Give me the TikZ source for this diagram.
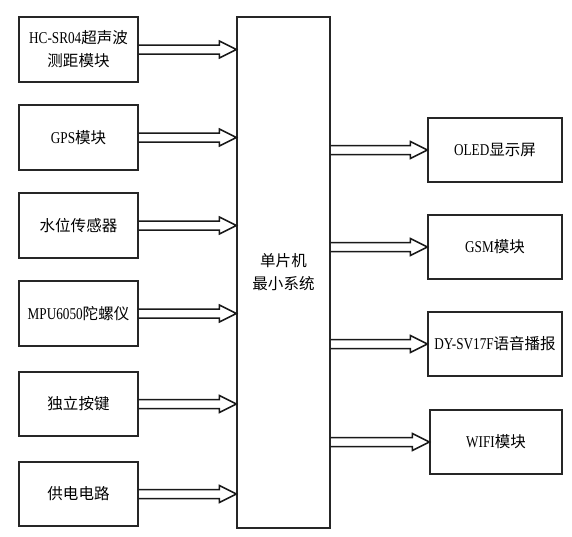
\documentclass[tikz,border=0pt]{standalone}
\usepackage{fontspec}
\setmainfont{Liberation Serif}[FakeStretch=0.8]
\newfontfamily\cjk{Noto Sans CJK SC}[Scale=0.94]
\usetikzlibrary{calc}
\tikzset{
  box/.style={draw=black!85, line width=1.3pt, inner sep=0pt, align=center, font=\fontsize{16.5}{23}\selectfont},
  lbox/.style={box, minimum width=119pt, minimum height=65pt},
  rbox/.style={box, minimum width=134pt, minimum height=64pt},
  fatarr/.style={draw=black!90, line width=1.5pt, line join=miter},
}
\newcommand\fatarrow[2]{%
  \draw[fatarr] ($(#1)+(0,-4.5)$) -- ($(#2)+(-17,-4.5)$) -- ++(0,-4) -- (#2)
    -- ++(-17,8.5) -- ++(0,-4) -- ($(#1)+(0,4.5)$);}
\begin{document}
\begin{tikzpicture}[x=1pt,y=-1pt]
\useasboundingbox (0,0) rectangle (572,536);
% left boxes
\node[lbox] (b1) at (78.5,49.5) {HC-SR04{\cjk 超声波}\\{\cjk 测距模块}};
\node[lbox] (b2) at (78.5,137.5) {GPS{\cjk 模块}};
\node[lbox] (b3) at (78.5,225.5) {\cjk 水位传感器};
\node[lbox] (b4) at (78.5,313.5) {MPU6050{\cjk 陀螺仪}};
\node[lbox, minimum height=64pt] (b5) at (78.5,404) {\cjk 独立按键};
\node[lbox, minimum height=64pt] (b6) at (78.5,494) {\cjk 供电电路};
% main box
\node[box, minimum width=93pt, minimum height=511pt] (m) at (283.5,272.5) {\cjk 单片机\\\cjk 最小系统};
% right boxes
\node[rbox] (r1) at (495,150) {OLED{\cjk 显示屏}};
\node[rbox] (r2) at (495,247) {GSM{\cjk 模块}};
\node[rbox] (r3) at (495,344) {DY-SV17F{\cjk 语音播报}};
\node[rbox, minimum width=132pt] (r4) at (496,442) {WIFI{\cjk 模块}};
% arrow end points
\foreach \i in {1,...,6} {
  \coordinate (t\i) at (b\i.east -| m.west);
}
\foreach \i in {1,...,4} {
  \coordinate (s\i) at (r\i.west -| m.east);
}
\fatarrow{b1.east}{t1}
\fatarrow{b2.east}{t2}
\fatarrow{b3.east}{t3}
\fatarrow{b4.east}{t4}
\fatarrow{b5.east}{t5}
\fatarrow{b6.east}{t6}
\fatarrow{s1}{r1.west}
\fatarrow{s2}{r2.west}
\fatarrow{s3}{r3.west}
\fatarrow{s4}{r4.west}
\end{tikzpicture}
\end{document}
